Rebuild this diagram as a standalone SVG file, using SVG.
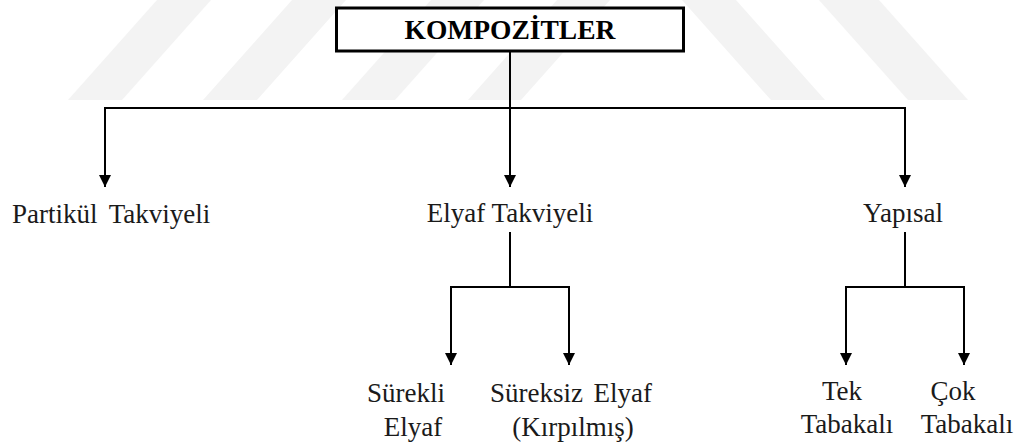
<svg xmlns="http://www.w3.org/2000/svg" width="1016" height="448" viewBox="0 0 1016 448">
<style>
.wm{fill:#f3f3f3;stroke:none}
.ln{stroke:#000;stroke-width:2;fill:none}
.t{font-family:"Liberation Serif","DejaVu Serif",serif;font-size:27px;fill:#1a1a1a}
.m{text-anchor:middle}
.title{font-family:"Liberation Serif","DejaVu Serif",serif;font-size:27.5px;font-weight:bold;fill:#000;text-anchor:middle}
</style>
<defs>
<marker id="ah" markerUnits="userSpaceOnUse" markerWidth="13" markerHeight="13" refX="12" refY="6" orient="auto">
<path d="M0,0 L12,6 L0,12 Z" fill="#000"/>
</marker>
</defs>
<rect width="1016" height="448" fill="#fff"/>
<g id="watermark">
<polygon class="wm" points="68,100 122,100 211,0 157,0"/>
<polygon class="wm" points="203,100 257,100 346,0 292,0"/>
<polygon class="wm" points="342,100 395,100 484,0 431,0"/>
<polygon class="wm" points="468,100 521,100 610,0 557,0"/>
<polygon class="wm" points="771,100 825,100 736,0 682,0"/>
<polygon class="wm" points="908,100 968,100 879,0 819,0"/>
</g>
<g id="connectors">
<line class="ln" x1="510" y1="52" x2="510" y2="108"/>
<line class="ln" x1="104" y1="108" x2="906" y2="108"/>
<line class="ln" x1="105" y1="108" x2="105" y2="187" marker-end="url(#ah)"/>
<line class="ln" x1="510" y1="108" x2="510" y2="187" marker-end="url(#ah)"/>
<line class="ln" x1="905" y1="108" x2="905" y2="187" marker-end="url(#ah)"/>
<line class="ln" x1="510" y1="232" x2="510" y2="287"/>
<line class="ln" x1="450" y1="287" x2="570" y2="287"/>
<line class="ln" x1="451" y1="287" x2="451" y2="365" marker-end="url(#ah)"/>
<line class="ln" x1="569" y1="287" x2="569" y2="365" marker-end="url(#ah)"/>
<line class="ln" x1="905" y1="232" x2="905" y2="287"/>
<line class="ln" x1="845" y1="287" x2="965" y2="287"/>
<line class="ln" x1="846" y1="287" x2="846" y2="365" marker-end="url(#ah)"/>
<line class="ln" x1="964" y1="287" x2="964" y2="365" marker-end="url(#ah)"/>
</g>
<g id="kompozitler">
<rect x="336.5" y="8" width="347" height="43" fill="#fff" stroke="#000" stroke-width="3"/>
<text class="title" x="510" y="38.5">KOMPOZİTLER</text>
</g>
<g id="partikul">
<text class="t" x="12" y="223" word-spacing="5">Partikül Takviyeli</text>
</g>
<g id="elyaf">
<text class="t m" x="510" y="222">Elyaf Takviyeli</text>
</g>
<g id="yapisal">
<text class="t m" x="903" y="222">Yapısal</text>
</g>
<g id="surekli">
<text class="t m" x="406" y="402">Sürekli</text>
<text class="t m" x="413" y="436">Elyaf</text>
</g>
<g id="sureksiz">
<text class="t m" x="571" y="402" word-spacing="4">Süreksiz Elyaf</text>
<text class="t m" x="573" y="436">(Kırpılmış)</text>
</g>
<g id="tek">
<text class="t m" x="842" y="400">Tek</text>
<text class="t m" x="847" y="433">Tabakalı</text>
</g>
<g id="cok">
<text class="t m" x="953" y="400">Çok</text>
<text class="t m" x="967" y="433">Tabakalı</text>
</g>
</svg>
